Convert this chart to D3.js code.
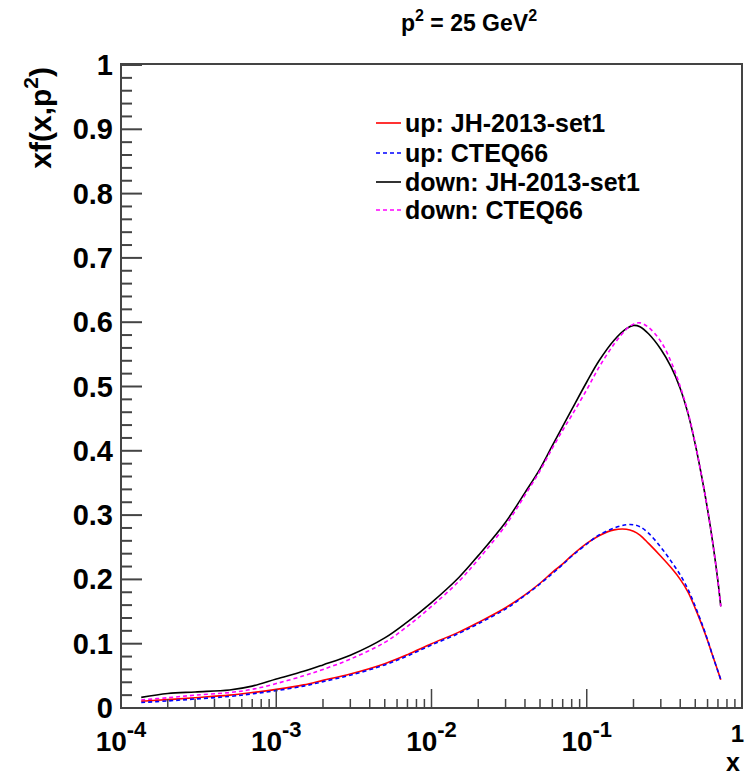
<!DOCTYPE html>
<html><head><meta charset="utf-8">
<script src="https://cdn.jsdelivr.net/npm/d3@7/dist/d3.min.js"></script>
<style>body{margin:0;background:#fff;} text{font-family:"Liberation Sans",Arial,Helvetica,sans-serif;font-weight:bold;fill:#000;}</style>
</head><body><svg id="c" width="747" height="777"></svg>
<script>
const xVals = [1.35e-4,2e-4,3e-4,5e-4,7e-4,1e-3,1.5e-3,2e-3,3e-3,5e-3,7e-3,1e-2,1.5e-2,2e-2,3e-2,4e-2,5e-2,6e-2,7e-2,8e-2,0.1,0.12,0.15,0.18,0.2,0.22,0.25,0.3,0.35,0.4,0.45,0.5,0.55,0.6,0.65,0.7,0.73];
const upJH    = [0.0105,0.013,0.016,0.020,0.024,0.029,0.036,0.043,0.053,0.069,0.083,0.100,0.118,0.133,0.156,0.176,0.194,0.211,0.224,0.237,0.256,0.268,0.277,0.278,0.275,0.269,0.256,0.236,0.218,0.200,0.180,0.155,0.130,0.105,0.080,0.057,0.044];
const upCTEQ  = [0.0085,0.011,0.014,0.018,0.022,0.027,0.034,0.041,0.051,0.067,0.081,0.098,0.116,0.131,0.154,0.175,0.193,0.209,0.223,0.236,0.255,0.269,0.280,0.285,0.285,0.282,0.272,0.250,0.228,0.207,0.184,0.158,0.132,0.106,0.080,0.057,0.044];
const downJH  = [0.0165,0.0225,0.025,0.028,0.034,0.045,0.057,0.067,0.082,0.109,0.134,0.164,0.203,0.237,0.289,0.335,0.372,0.408,0.438,0.464,0.507,0.540,0.572,0.590,0.595,0.593,0.582,0.558,0.530,0.497,0.457,0.410,0.360,0.309,0.255,0.197,0.158];
const downCTEQ= [0.0125,0.016,0.020,0.024,0.029,0.038,0.050,0.060,0.076,0.102,0.127,0.158,0.197,0.231,0.284,0.331,0.369,0.404,0.432,0.455,0.495,0.530,0.566,0.589,0.597,0.599,0.592,0.570,0.538,0.500,0.459,0.411,0.360,0.309,0.255,0.197,0.158];
const seriesNames = ["up: JH-2013-set1","up: CTEQ66","down: JH-2013-set1","down: CTEQ66"];
const seriesColors = ["#ff0000","#0000ff","#000000","#ff00ff"];
const seriesDash = [null,"4,3",null,"4,3"];
const seriesData = [upJH, upCTEQ, downJH, downCTEQ];
const xTickExps = [-4,-3,-2,-1];
const yTicks = [0,0.1,0.2,0.3,0.4,0.5,0.6,0.7,0.8,0.9,1];

const svg = d3.select("#c");
const L=121, R=742, T=64, B=708;
const x = d3.scaleLog().domain([1e-4,1]).range([L,R]);
const y = d3.scaleLinear().domain([0,1]).range([B,65]);
const axisCol = "#444";

// curves
const line = d3.line().x(d=>x(d[0])).y(d=>y(d[1])).curve(d3.curveCatmullRom.alpha(0.5));
const drawOrder = [2,3,0,1];
drawOrder.forEach(i=>{
  svg.append("path").datum(xVals.map((v,j)=>[v,seriesData[i][j]]))
    .attr("d",line).attr("fill","none").attr("stroke",seriesColors[i])
    .attr("stroke-width",1.6).attr("stroke-dasharray",seriesDash[i]);
});

// frame
svg.append("rect").attr("x",L).attr("y",T).attr("width",R-L).attr("height",B-T)
  .attr("fill","none").attr("stroke",axisCol).attr("stroke-width",2);

// y ticks
const yMinor = d3.range(0,51).map(i=>i*0.02);
yMinor.forEach(v=>{
  const major = Math.abs(v*10-Math.round(v*10))<1e-6;
  svg.append("line").attr("x1",L).attr("x2",L+(major?21:11)).attr("y1",y(v)).attr("y2",y(v))
    .attr("stroke",axisCol).attr("stroke-width",2);
});
yTicks.forEach(v=>{
  svg.append("text").attr("x",113).attr("y",y(v)+10).attr("text-anchor","end")
    .attr("font-size",29).text(d3.format("~g")(v));
});

// x ticks
for(let e=-4;e<0;e++){
  for(let m=1;m<10;m++){
    const v=m*Math.pow(10,e);
    svg.append("line").attr("x1",x(v)).attr("x2",x(v)).attr("y1",B).attr("y2",B-(m===1?19:9))
      .attr("stroke",axisCol).attr("stroke-width",1.5);
  }
}
xTickExps.forEach(e=>{
  const t = svg.append("text").attr("x",x(Math.pow(10,e))).attr("y",751).attr("text-anchor","middle").attr("font-size",28);
  t.append("tspan").text("10");
  t.append("tspan").attr("dy",-14).attr("font-size",22).text(String(e));
});
svg.append("text").attr("x",744).attr("y",742).attr("text-anchor","end").attr("font-size",24).text("1");

// axis titles
svg.append("text").attr("x",740).attr("y",771).attr("text-anchor","end").attr("font-size",25).text("x");
const yt = svg.append("text").attr("transform","translate(51,67) rotate(-90)").attr("text-anchor","end").attr("font-size",30);
yt.append("tspan").text("xf(x,p");
yt.append("tspan").attr("dy",-13).attr("font-size",21).text("2");
yt.append("tspan").attr("dy",13).text(")");

// title
const tt = svg.append("text").attr("x",469).attr("y",31).attr("text-anchor","middle").attr("font-size",23);
tt.append("tspan").text("p");
tt.append("tspan").attr("dy",-10).attr("font-size",16).text("2");
tt.append("tspan").attr("dy",10).text(" = 25 GeV");
tt.append("tspan").attr("dy",-10).attr("font-size",16).text("2");

// legend
const rowY=[123,153,182,210];
seriesNames.forEach((n,i)=>{
  svg.append("line").attr("x1",376).attr("x2",401).attr("y1",rowY[i]).attr("y2",rowY[i])
    .attr("stroke",seriesColors[i]).attr("stroke-width",1.6).attr("stroke-dasharray",seriesDash[i]);
  svg.append("text").attr("x",405).attr("y",rowY[i]+9).attr("font-size",25).text(n);
});
</script></body></html>
